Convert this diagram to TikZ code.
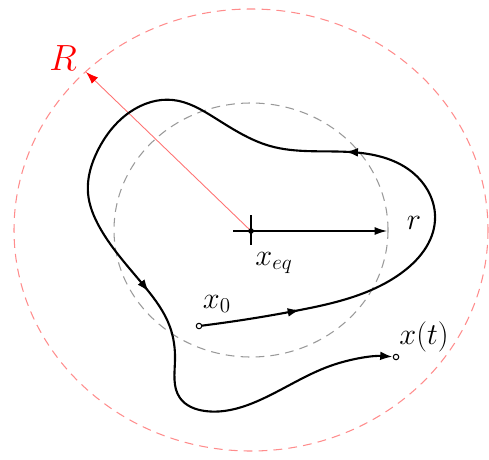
\documentclass[tikz,border=0pt]{standalone}
\usepackage{amsmath}
\usetikzlibrary{arrows.meta,decorations.markings,hobby}
\tikzset{
  traj/.style={line width=1.2pt,line join=round},
  dotnode/.style={circle,draw,line width=0.6pt,fill=white,inner sep=1.1pt},
  lab/.style={font=\LARGE,inner sep=0pt},
  flowmarks/.style={postaction={decorate},decoration={markings,
    mark=at position 0.086 with {\arrow{Latex[length=7pt,width=5pt]}},
    mark=at position 0.338 with {\arrow{Latex[length=7pt,width=5pt]}},
    mark=at position 0.71 with {\arrow{Latex[length=7pt,width=5pt]}}}}
}
\begin{document}
\begin{tikzpicture}[x=0.02cm,y=-0.02cm]
\useasboundingbox (0,0) rectangle (489,459);
% regions
\draw[red!45,dashed,dash pattern=on 5pt off 3.5pt,line width=0.6pt](251,230)ellipse(237 and 221);
\draw[gray!80,dashed,dash pattern=on 5pt off 3.5pt,line width=0.6pt](251,230)ellipse(137 and 127);
% equilibrium
\coordinate (xeq) at (251,231);
\coordinate (crossL) at (233,231);
\coordinate (crossT) at (251,215);
\coordinate (crossB) at (251,245);
\coordinate (rtip) at (387,231);
\coordinate (Rtip) at (86,72);
\draw[red!55,line width=0.5pt,-{Latex[red,length=7pt,width=5pt]}](xeq)--(Rtip);
\draw[line width=0.7pt,-{Latex[length=7pt,width=4.5pt]}](crossL)--(rtip);
\draw[line width=0.7pt](crossT)--(crossB);
\fill(xeq)circle(1.6pt);
\node[lab,text=red,font=\huge] (Rlab) at (63,58) {$R$};
\node[lab] (rlab) at (414,223) {$r$};
\node[lab] (xeqlab) at (274,263) {$x_{eq}$};
% trajectory
\draw[traj,flowmarks,-{Latex[length=7pt,width=5pt]},shorten >=2pt,use Hobby shortcut]
(199,326)..(300,310)..(400,274)..(435,220)..(412,172)..(350,152)..(270,146)..(215,118)
..(173,100)..(130,112)..(98,150)..(88,193)..(100,228)..(145,287)..(170,327)..(175,360)
..(180,398)..(205,411)..(260,400)..(330,366)..(396,357);
\node[dotnode] (x0) at (199,326) {};
\node[dotnode] (xt) at (396,357) {};
\node[lab] (x0lab) at (217,304) {$x_0$};
\node[lab] (xtlab) at (424,337) {$x(t)$};
\end{tikzpicture}
\end{document}
